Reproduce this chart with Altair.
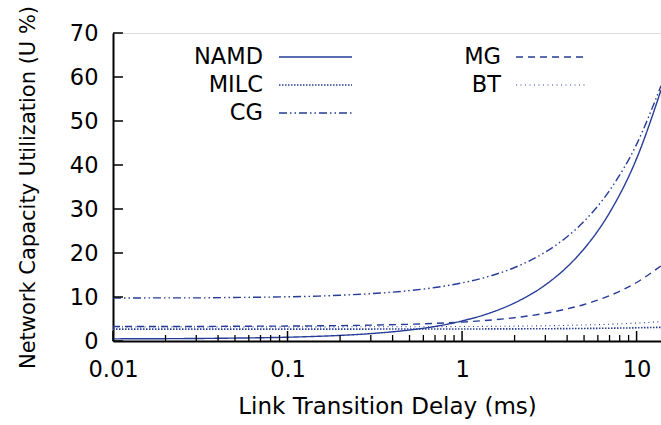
import altair as alt
import pandas as pd

# ---- data ----
series = ["NAMD", "MILC", "CG", "MG", "BT"]
delay = [0.01, 0.02, 0.03, 0.05, 0.07, 0.1, 0.15, 0.2, 0.3, 0.5, 0.7, 1, 1.5, 2, 3, 4, 5, 7, 10, 13.8]
namd = [0.49, 0.53, 0.57, 0.66, 0.74, 0.86, 1.07, 1.27, 1.68, 2.5, 3.3, 4.55, 6.6, 8.65, 12.75, 16.85, 20.95, 29.15, 41.45, 57.0]
milc = [2.7, 2.7, 2.7, 2.7, 2.7, 2.7, 2.7, 2.71, 2.71, 2.72, 2.72, 2.73, 2.75, 2.76, 2.79, 2.82, 2.85, 2.91, 3.0, 3.11]
cg = [9.75, 9.8, 9.8, 9.9, 9.95, 10.05, 10.2, 10.4, 10.75, 11.45, 12.15, 13.2, 14.95, 16.7, 20.2, 23.7, 27.2, 34.2, 44.7, 58.0]
mg = [3.3, 3.3, 3.3, 3.35, 3.37, 3.4, 3.45, 3.5, 3.6, 3.8, 4.0, 4.3, 4.8, 5.3, 6.3, 7.3, 8.3, 10.3, 13.3, 17.1]
bt = [3.2, 3.2, 3.2, 3.2, 3.21, 3.21, 3.21, 3.22, 3.23, 3.24, 3.26, 3.29, 3.33, 3.37, 3.46, 3.55, 3.64, 3.81, 4.07, 4.4]

x_major = [0.01, 0.1, 1, 10]
x_minor = [0.02, 0.03, 0.04, 0.05, 0.06, 0.07, 0.08, 0.09,
           0.2, 0.3, 0.4, 0.5, 0.6, 0.7, 0.8, 0.9,
           2, 3, 4, 5, 6, 7, 8, 9]
y_ticks = [0, 10, 20, 30, 40, 50, 60, 70]

values = {"NAMD": namd, "MILC": milc, "CG": cg, "MG": mg, "BT": bt}
rows = []
for s in series:
    for d, v in zip(delay, values[s]):
        rows.append({"delay": d, "util": v, "series": s})
df = pd.DataFrame(rows)

COLOR = "#263c98"
FONT = "DejaVu Sans"
dashes = {"NAMD": [1, 0], "MILC": [1.5, 1.5], "CG": [8, 3, 1.5, 3, 1.5, 3], "MG": [7, 5], "BT": [1, 3.5]}
widths = {"NAMD": 1.4, "MILC": 1.6, "CG": 1.4, "MG": 1.4, "BT": 1.1}

W, H = 548, 308
xscale = alt.Scale(type="log", domain=[0.01, 13.8], nice=False)
yscale = alt.Scale(domain=[0, 70], nice=False)

xaxis = alt.Axis(values=x_major, format="~g", ticks=False, tickSize=0, grid=False,
                 labelFontSize=22.5, labelPadding=17, labelColor="black", labelFont=FONT,
                 domainColor="black", domainWidth=2,
                 title="Link Transition Delay (ms)", titleFontSize=23, titleFontWeight="normal",
                 titleFont=FONT, titlePadding=15, titleColor="black", labelFlush=False)
yaxis = alt.Axis(values=y_ticks, ticks=False, tickSize=0, grid=False,
                 labelFontSize=22.5, labelPadding=15, labelColor="black", labelFont=FONT,
                 domainColor="black", domainWidth=2,
                 title="Network Capacity Utilization (U %)", titleFontSize=21,
                 titleFontWeight="normal", titleFont=FONT, titlePadding=31, titleColor="black")

layers = []
for s in series:
    sub = df[df.series == s]
    layers.append(
        alt.Chart(sub).mark_line(color=COLOR, strokeWidth=widths[s], strokeDash=dashes[s],
                                 clip=True, interpolate="monotone").encode(
            x=alt.X("delay:Q", scale=xscale, axis=xaxis),
            y=alt.Y("util:Q", scale=yscale, axis=yaxis),
            order="delay:Q",
        )
    )

# inward tick marks
tick_major = alt.Chart(pd.DataFrame({"delay": x_major})).mark_rule(color="black", strokeWidth=1.5).encode(
    x=alt.X("delay:Q", scale=xscale, axis=xaxis), y=alt.value(H), y2=alt.value(H - 10))
tick_minor = alt.Chart(pd.DataFrame({"delay": x_minor})).mark_rule(color="black", strokeWidth=1.3).encode(
    x=alt.X("delay:Q", scale=xscale, axis=xaxis), y=alt.value(H), y2=alt.value(H - 6))
tick_y = alt.Chart(pd.DataFrame({"util": y_ticks})).mark_rule(color="black", strokeWidth=1.5).encode(
    y=alt.Y("util:Q", scale=yscale, axis=yaxis), x=alt.value(0), x2=alt.value(10))
layers += [tick_major, tick_minor, tick_y]

# manual key (label left of sample, gnuplot style)
key_pos = {"NAMD": (150, 166, 239, 24), "MILC": (150, 166, 239, 52), "CG": (150, 166, 239, 80),
           "MG": (388, 403, 474, 24), "BT": (388, 403, 474, 52)}
for s in series:
    lx, x1, x2, ky = key_pos[s]
    one = pd.DataFrame({"name": [s]})
    layers.append(alt.Chart(one).mark_text(align="right", baseline="middle", fontSize=22.5,
                                           font=FONT, color="black").encode(
        text="name:N", x=alt.value(lx), y=alt.value(ky)))
    layers.append(alt.Chart(one).mark_rule(color=COLOR, strokeWidth=widths[s], strokeDash=dashes[s]).encode(
        x=alt.value(x1), x2=alt.value(x2), y=alt.value(ky)))

chart = alt.layer(*layers).properties(
    width=W, height=H,
    autosize=alt.AutoSizeParams(type="none"),
    padding={"left": 113, "top": 33, "right": 0, "bottom": 84},
).configure_view(strokeWidth=0, stroke="transparent").configure(background="white")

chart.save("out.html", embed_options={"renderer": "svg", "actions": False})
